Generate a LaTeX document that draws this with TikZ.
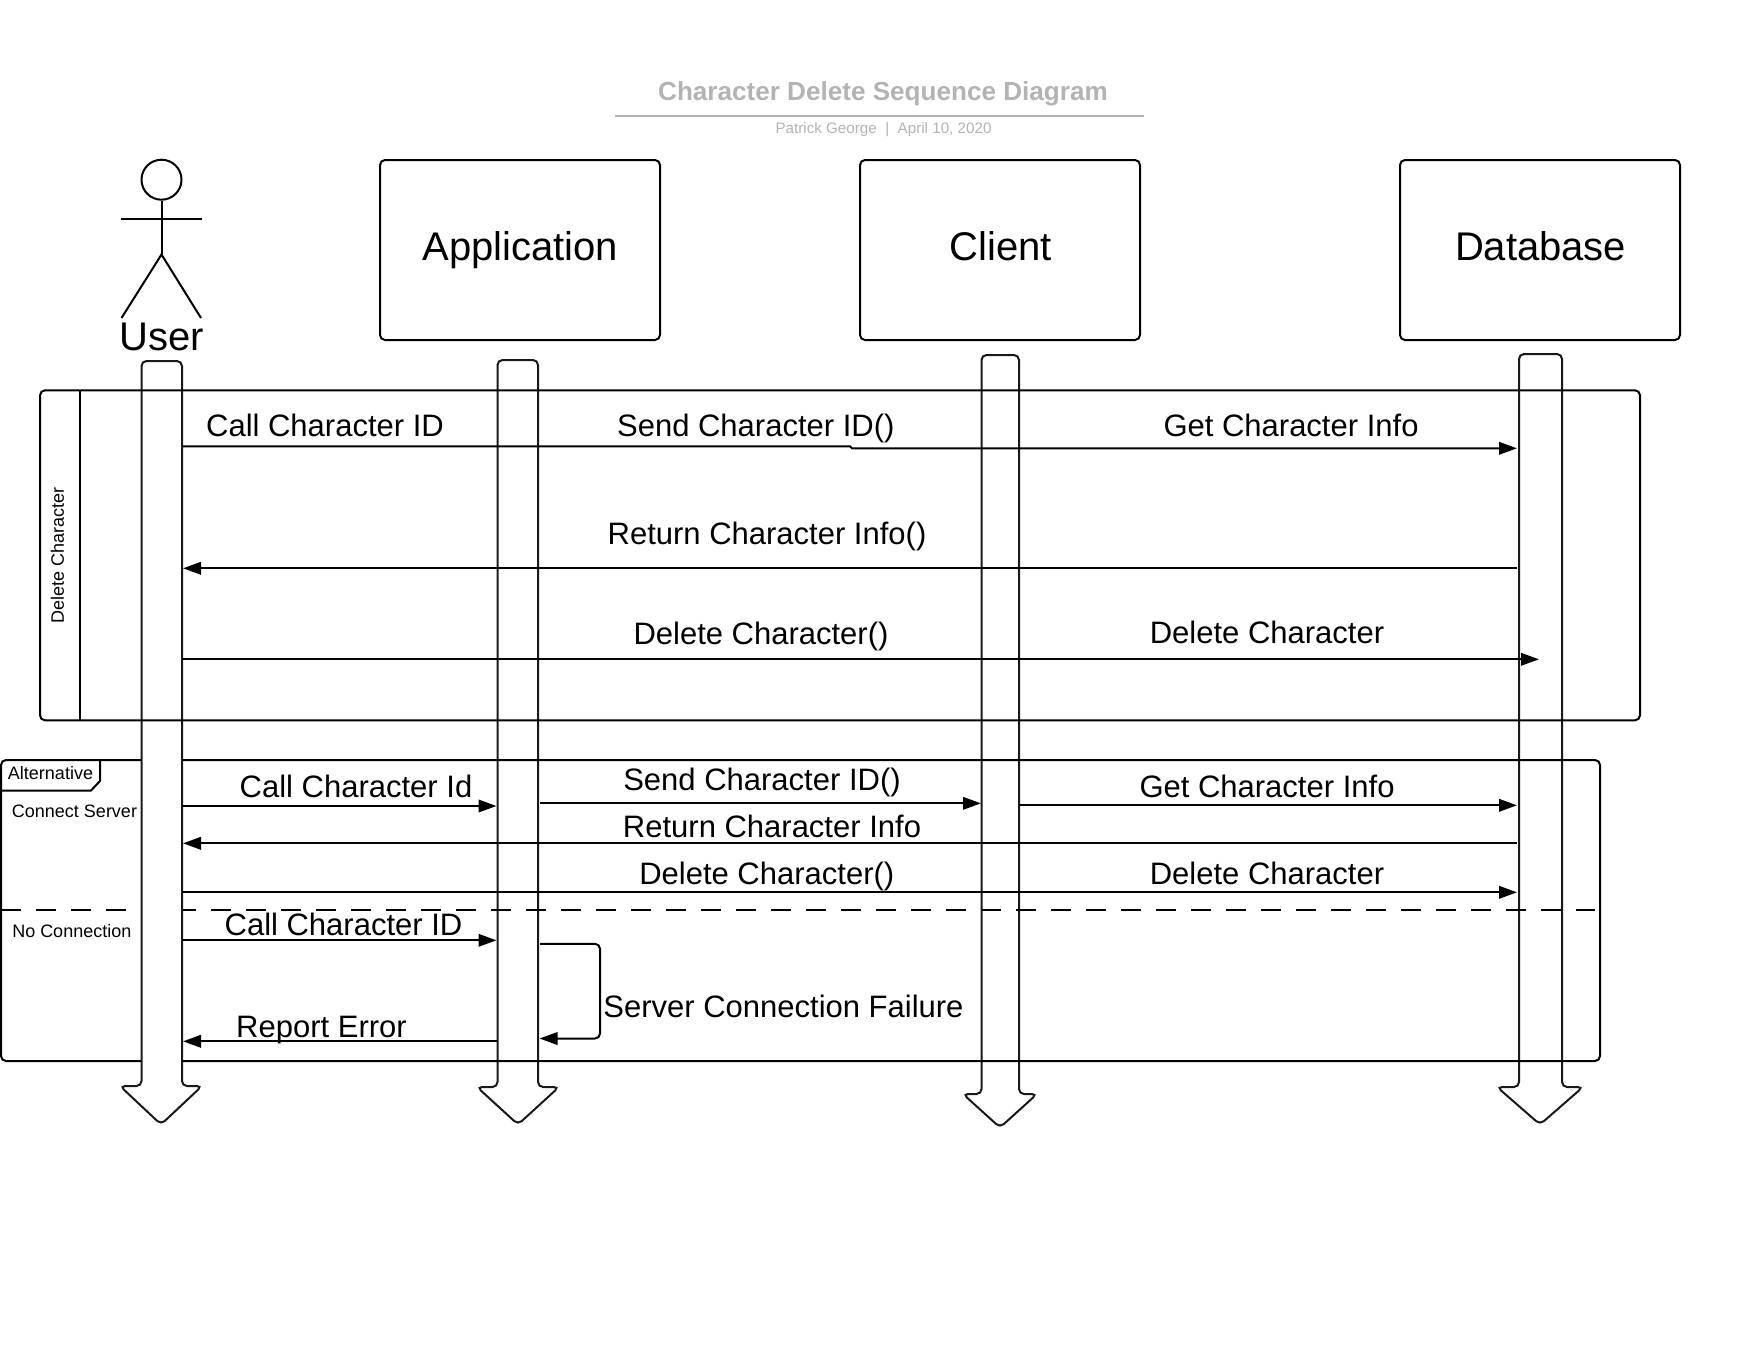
\documentclass[tikz,border=0pt]{standalone}
\usepackage{fontspec}
\setmainfont{Liberation Sans}
\usetikzlibrary{arrows.meta}
\definecolor{titlegray}{HTML}{B3B3B3}
\tikzset{
  base/.style={line width=2pt,draw=black},
  msg/.style={base,-{Triangle[length=18pt,width=12.5pt]}},
  plain/.style={base},
  lbl/.style={inner sep=0pt,font=\fontsize{31}{36}\selectfont},
  small/.style={inner sep=0pt,font=\fontsize{18}{22}\selectfont},
  big/.style={inner sep=0pt,font=\fontsize{40}{46}\selectfont},
  party/.style={base,rounded corners=5pt,minimum width=280pt,minimum height=180pt,inner sep=0pt},
  lifebody/.style={line width=2pt,draw=black!90,fill=white,rounded corners=5pt},
  framebox/.style={base,rounded corners=5pt},
}
\newcommand{\lifeline}[9]{%
  \draw[lifebody] (#1,#3) -- (#1,#5) -- (#6,#5) -- (#8,#9) -- (#7,#5) -- (#2,#5) -- (#2,#3) -- cycle;
}
\begin{document}
\begin{tikzpicture}[x=1pt,y=-1pt]
\useasboundingbox (0,0) rectangle (1760,1360);
% title
\node[inner sep=0pt,text=titlegray,font=\fontsize{26.1}{30}\selectfont\bfseries] (title) at (883,93.7) {Character Delete Sequence Diagram};
\coordinate (tl) at (615,116);
\coordinate (tr) at (1144,116);
\draw[line width=2pt,draw=titlegray] (tl) -- (tr);
\node[inner sep=0pt,text=titlegray,font=\fontsize{15.2}{18}\selectfont] (subtitle) at (883.5,129.5) {Patrick George\ \ |\ \ April 10, 2020};
% lifelines below frame 2
\lifeline{497.5}{538}{360}{0}{1087}{477}{559}{518}{1124.5}
\lifeline{981.5}{1019}{355}{0}{1094}{963}{1037}{1000}{1127.5}
\lifeline{1519}{1562}{354}{0}{1087}{1497}{1583}{1540}{1124.5}
% frame 2
\node[framebox,minimum width=1599pt,minimum height=301pt,inner sep=0pt] (altframe) at (800.5,910.5) {};
\coordinate (tabA) at (100,760);
\coordinate (tabB) at (100,781);
\coordinate (tabC) at (91,790.5);
\coordinate (tabD) at (1,790.5);
\draw[plain] (tabA) -- (tabB) -- (tabC) -- (tabD);
\coordinate (dashA) at (1,910.3);
\coordinate (dashB) at (1595,910.3);
\draw[line width=2pt,dash pattern=on 20pt off 15pt] (dashA) -- (dashB);
% user lifeline covers frame 2
\lifeline{141.5}{182}{361}{0}{1086}{120}{202}{161}{1124.5}
% frame 1
\node[framebox,minimum width=1600pt,minimum height=330pt,inner sep=0pt] (delframe) at (840,555.3) {};
\coordinate (divA) at (80,390.3);
\coordinate (divB) at (80,720.3);
\draw[plain] (divA) -- (divB);
\node[small,rotate=90] (dellabel) at (57.5,555) {Delete Character};
% actor
\node[base,circle,minimum size=40pt,inner sep=0pt] (head) at (161.5,179.7) {};
\coordinate (hip) at (161.5,254.5);
\coordinate (armL) at (121,219.3);
\coordinate (armR) at (201.5,219.3);
\coordinate (legL) at (121.5,318);
\coordinate (legR) at (201,318);
\draw[plain] (head.south) -- (hip);
\draw[plain] (armL) -- (armR);
\draw[plain] (legL) -- (hip) -- (legR);
\node[big] (user) at (161.5,337) {User};
% parties
\node[party] (app) at (520,250) {};
\node[party] (client) at (1000,250) {};
\node[party] (db) at (1540,250) {};
\node[big] (appl) at (520.3,250.5) {Application};
\node[big] (clientl) at (1000.5,246.5) {Client};
\node[big] (dbl) at (1540.6,246.5) {Database};
% messages frame 1
\coordinate (a1) at (182,446.3);
\coordinate (a2) at (850,446.3);
\coordinate (a3) at (852,448.3);
\coordinate (a4) at (1517,448.3);
\draw[msg] (a1) -- (a2) -- (a3) -- (a4);
\node[lbl] (t1) at (325,425.5) {Call Character ID};
\node[lbl] (t2) at (755.8,428) {Send Character ID()};
\node[lbl] (t3) at (1291,425.5) {Get Character Info};
\coordinate (b1) at (1517,568.3);
\coordinate (b2) at (183,568.3);
\draw[msg] (b1) -- (b2);
\node[lbl] (t4) at (767,536) {Return Character Info()};
\coordinate (c1) at (182,659.3);
\coordinate (c2) at (1539,659.3);
\draw[msg] (c1) -- (c2);
\node[lbl] (t5) at (761,636.4) {Delete Character()};
\node[lbl] (t6) at (1267,632.5) {Delete Character};
% frame 2 labels
\node[small,anchor=center] (alt) at (50.5,773) {Alternative};
\node[small] (conn) at (74.5,811) {Connect Server};
\node[small] (noconn) at (71.8,931) {No Connection};
% messages frame 2
\coordinate (d1) at (182,806);
\coordinate (d2) at (496.5,806);
\draw[msg] (d1) -- (d2);
\node[lbl] (t7) at (356,786) {Call Character Id};
\coordinate (e1) at (540,803.3);
\coordinate (e2) at (981,803.3);
\draw[msg] (e1) -- (e2);
\node[lbl] (t8) at (762,782.4) {Send Character ID()};
\coordinate (f1) at (1019,805.3);
\coordinate (f2) at (1517,805.3);
\draw[msg] (f1) -- (f2);
\node[lbl] (t9) at (1267,786) {Get Character Info};
\coordinate (g1) at (1517,843.3);
\coordinate (g2) at (183,843.3);
\draw[msg] (g1) -- (g2);
\node[lbl] (t10) at (772,826) {Return Character Info};
\coordinate (h1) at (182,892.3);
\coordinate (h2) at (1517,892.3);
\draw[msg] (h1) -- (h2);
\node[lbl] (t11) at (766.8,876.4) {Delete Character()};
\node[lbl] (t12) at (1267,873) {Delete Character};
\coordinate (i1) at (182,940.3);
\coordinate (i2) at (496.5,940.3);
\draw[msg] (i1) -- (i2);
\node[lbl] (t13) at (343.5,924) {Call Character ID};
\coordinate (j1) at (540,943.8);
\coordinate (j2) at (600,943.8);
\coordinate (j3) at (600,1038.5);
\coordinate (j4) at (539.5,1038.5);
\draw[msg,rounded corners=5pt] (j1) -- (j2) -- (j3) -- (j4);
\node[lbl] (t14) at (783.5,1006) {Server Connection Failure};
\coordinate (k1) at (497,1041.3);
\coordinate (k2) at (183,1041.3);
\draw[msg] (k1) -- (k2);
\node[lbl] (t15) at (321.5,1030.5) {Report Error};
\end{tikzpicture}
\end{document}
